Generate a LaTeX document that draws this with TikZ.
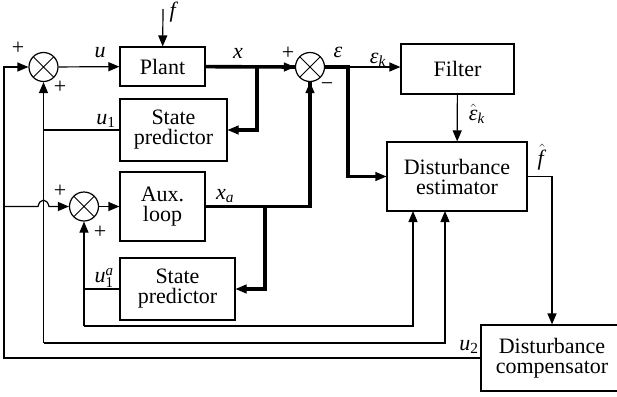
\documentclass[tikz,border=0pt]{standalone}
\usepackage{fontspec}
\setmainfont{Liberation Serif}
\usetikzlibrary{arrows.meta}
\newcommand{\vl}[1]{\textit{#1}}
\newcommand{\vsub}[2]{\textit{#1}\textsubscript{\textit{#2}}}
\begin{document}
\begin{tikzpicture}[x=1pt, y=-1pt,
        every node/.style = {font=\fontsize{22}{20}\selectfont},
        box/.style = {draw, line width=1.2pt, align=center, inner sep=0pt},
        sumnode/.style = {draw, circle, line width=1.2pt, minimum size=29pt, inner sep=0pt,
            path picture={\draw[line width=1pt] (path picture bounding box.south west) -- (path picture bounding box.north east)
                (path picture bounding box.north west) -- (path picture bounding box.south east);}},
        ln/.style = {line width=1.2pt},
        arr/.style = {line width=1.2pt, -{Triangle[length=11pt, width=9pt]}},
        thk/.style = {line width=3.6pt}]
    \useasboundingbox (0, 0) rectangle (617, 396);
        \node[box, minimum width=85pt, minimum height=39pt] (plant) at (162.5, 66.5) {Plant};
        \node[box, minimum width=107pt, minimum height=62pt] (sp1) at (173.5, 130) {State\\predictor};
        \node[box, minimum width=85pt, minimum height=69pt] (aux) at (162.5, 206.5) {Aux.\\loop};
        \node[box, minimum width=115pt, minimum height=62pt] (sp2) at (177.5, 289) {State\\predictor};
        \node[box, minimum width=113pt, minimum height=50pt] (filter) at (457.5, 69) {Filter};
        \node[box, minimum width=140pt, minimum height=69pt] (est) at (457, 176.5) {Disturbance\\estimator};
        \node[box, minimum width=142pt, minimum height=66pt] (comp) at (552, 358) {Disturbance\\compensator};
        \node[sumnode] (s1) at (43.5, 67) {};
        \node[sumnode] (sa) at (84, 206.5) {};
        \node[sumnode] (s2) at (310, 67) {};
        \coordinate (f) at (163, 9);
        \coordinate (lft) at (4, 360);
        \coordinate (c1) at (43.5, 343);
        \coordinate (c2) at (84, 326);
        \coordinate (e1) at (413, 211);
        \coordinate (e2) at (445, 211);
        \coordinate (b1) at (257, 66.5);
        \coordinate (b2) at (265, 206.5);
        \coordinate (b3) at (348, 67);
        \draw[arr] (f) -- (plant);
        \draw[arr] (s1) -- (plant);
        \draw[thk] (plant) -- (s2.west);
        \draw[arr] (s2.west) ++(-2, 0) -- (s2.west);
        \draw[thk] (b1) |- ([xshift=9pt]sp1.east);
        \draw[arr] ([xshift=2pt]sp1.east) -- (sp1.east);
        \draw[ln] (sp1.west) -- (sp1.west -| c1);
        \draw[arr] (c1) -- (s1);
        \draw[arr] (c1) -| (e2);
        \draw[ln] (sp2.west) -- (sp2.west -| c2);
        \draw[arr] (c2) -- (sa);
        \draw[arr] (c2) -| (e1);
        \draw[arr] (comp.west) -- (comp.west -| lft) |- (s1);
        \draw[arr] (lft |- sa) -- (38, 206.5) .. controls (40, 198) and (47, 198) .. (49, 206.5) -- (sa);
        \draw[arr] (sa) -- (aux);
        \draw[thk] (aux.east) -| (s2.south);
        \draw[arr] (s2.south) ++(0, 2) -- (s2.south);
        \draw[thk] (b2) |- ([xshift=9pt]sp2.east);
        \draw[arr] ([xshift=2pt]sp2.east) -- (sp2.east);
        \draw[thk] (s2) -- (b3) |- ([xshift=-9pt]est.west);
        \draw[arr] ([xshift=-2pt]est.west) -- (est.west);
        \draw[arr] (b3) -- (b3 -| filter.west);
        \draw[arr] (filter) -- (est);
        \draw[arr] (est.east) -| (comp.north);
        \node (lf) at (174, 12) {\vl{f}};
        \node (lu) at (100, 53) {\vl{u}};
        \node (lx) at (238, 53) {\vl{x}};
        \node (lu1) at (106, 121) {\vsub{u}{\upshape 1}};
        \node (lxa) at (225, 196) {\vsub{x}{a}};
        \node (lu1a) at (104, 278) {\textit{u}$^{\mbox{\fontsize{15}{15}\selectfont\textit{a}}}_{\mbox{\fontsize{15}{15}\selectfont 1}}$};
        \node (leps) at (338, 52) {\vl{ε}};
        \node (lepsk) at (378, 60) {\vsub{ε}{k}};
        \node (lepsh) at (477, 114) {$\hat{\mbox{\textit{ε}}}_{\mbox{\fontsize{15}{15}\selectfont\textit{k}}}$};
        \node (lfh) at (542, 157) {$\hat{\mbox{\textit{f}}}$};
        \node (lu2) at (469, 347) {\vsub{u}{\upshape 2}};
        \node (p1) at (18, 48) {+};
        \node (p2) at (60, 87) {+};
        \node (p3) at (60, 191) {+};
        \node (p4) at (100, 232) {+};
        \node (p5) at (288, 53) {+};
        \node (m1) at (327, 87) {−};
\end{tikzpicture}
\end{document}
